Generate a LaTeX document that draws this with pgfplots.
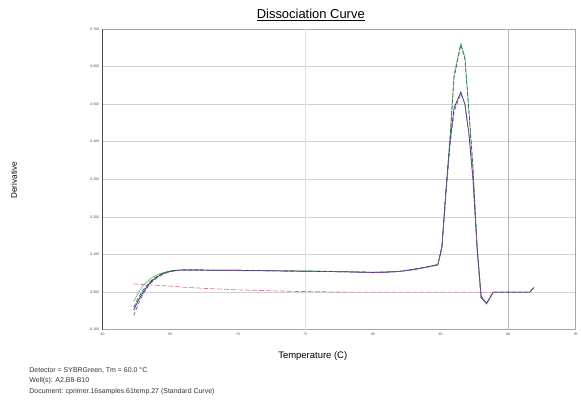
\documentclass[border=0pt]{standalone}
\usepackage{pgfplots}
\pgfplotsset{compat=1.18}
\usepackage{fontspec}
\setmainfont{Liberation Sans}
\definecolor{cgreen}{RGB}{110,190,110}
\definecolor{cteal}{RGB}{50,100,100}
\definecolor{cnavy}{RGB}{40,40,120}
\definecolor{cpurple}{RGB}{140,80,150}
\definecolor{cpink}{RGB}{215,120,130}
\begin{document}
\begin{tikzpicture}
\path (0pt,0pt) rectangle (581pt,401pt);
\begin{axis}[
  at={(103pt,70pt)}, anchor=south west,
  scale only axis, width=475pt, height=302pt,
  xmin=60, xmax=95, ymin=-0.1, ymax=0.7,
  xtick={60,65,...,95}, ytick={-0.1,0,0.1,0.2,0.3,0.4,0.5,0.6,0.7},
  extra x ticks={90}, extra x tick labels={},
  extra x tick style={grid=major, major grid style={black!30, line width=0.6pt}},
  ymajorgrids, major grid style={black!18, line width=0.6pt},
  axis line style={black!35, line width=0.5pt},
  major tick length=0pt,
  tick label style={font=\fontsize{3.5}{4}\selectfont, text=black!70},
  /pgf/number format/assume math mode=true,
  yticklabel style={/pgf/number format/.cd, fixed, fixed zerofill, precision=3},
  xticklabel style={/pgf/number format/.cd, fixed, precision=0},
  clip=false,
]
\draw[black!12, line width=0.6pt] (axis cs:75,-0.1) -- (axis cs:75,0.7);
% green (high peak)
\addplot[cgreen, line width=0.7pt] coordinates {
(62.3,-0.025)(62.6,-0.005)(63.0,0.018)(63.5,0.035)(64.0,0.046)(64.5,0.052)(65.0,0.056)(65.5,0.058)(66.0,0.059)(67,0.059)(68,0.058)(70,0.058)(72,0.057)(74,0.056)(76,0.056)(78,0.054)(80,0.053)(81,0.054)(82,0.056)(83,0.061)(84,0.067)(84.8,0.074)(85.1,0.12)(85.4,0.27)(85.7,0.41)(86.0,0.58)(86.5,0.662)(86.8,0.625)(87.1,0.48)(87.4,0.33)(87.7,0.12)(88.0,-0.01)(88.4,-0.032)(88.9,0.0)(91.6,0.0)(91.9,0.012)};
% navy (low peak)
\addplot[cnavy, line width=0.7pt] coordinates {
(62.3,-0.048)(62.6,-0.025)(63.0,0.0)(63.5,0.025)(64.0,0.040)(64.5,0.050)(65.0,0.055)(65.5,0.058)(66.0,0.059)(67,0.059)(68,0.058)(70,0.058)(72,0.057)(74,0.056)(76,0.055)(78,0.054)(80,0.052)(81,0.053)(82,0.055)(83,0.060)(84,0.067)(84.8,0.072)(85.1,0.12)(85.4,0.27)(85.7,0.40)(86.0,0.49)(86.5,0.532)(86.8,0.50)(87.1,0.42)(87.4,0.30)(87.7,0.12)(88.0,-0.015)(88.4,-0.03)(88.9,0.0)(91.6,0.0)(91.9,0.012)};
% teal dashed (high peak)
\addplot[cteal, line width=0.7pt, dash pattern=on 4pt off 2pt] coordinates {
(62.3,-0.040)(62.6,-0.018)(63.0,0.006)(63.5,0.028)(64.0,0.042)(64.5,0.051)(65.0,0.056)(65.5,0.058)(66.0,0.059)(67,0.059)(68,0.058)(70,0.058)(72,0.057)(74,0.056)(76,0.055)(78,0.054)(80,0.053)(81,0.053)(82,0.055)(83,0.060)(84,0.067)(84.8,0.073)(85.1,0.12)(85.4,0.27)(85.7,0.41)(86.0,0.57)(86.5,0.658)(86.8,0.62)(87.1,0.48)(87.4,0.33)(87.7,0.12)(88.0,-0.01)(88.4,-0.03)(88.9,0.0)(91.6,0.0)};
% purple dashed (low peak)
\addplot[cpurple, line width=0.7pt, dash pattern=on 4pt off 2pt] coordinates {
(62.3,-0.062)(62.6,-0.035)(63.0,-0.005)(63.5,0.022)(64.0,0.037)(64.5,0.048)(65.0,0.054)(65.5,0.057)(66.0,0.058)(67,0.058)(68,0.058)(70,0.057)(72,0.057)(74,0.056)(76,0.055)(78,0.054)(80,0.052)(81,0.053)(82,0.055)(83,0.060)(84,0.066)(84.8,0.072)(85.1,0.12)(85.4,0.26)(85.7,0.39)(86.0,0.48)(86.5,0.528)(86.8,0.50)(87.1,0.42)(87.4,0.30)(87.7,0.12)(88.0,-0.015)(88.4,-0.03)(88.9,0.0)(91.6,0.0)};
% pink dashed (no template)
\addplot[cpink, line width=0.7pt, dash pattern=on 5pt off 2pt] coordinates {
(62.3,0.022)(63,0.020)(64,0.018)(65,0.016)(66,0.013)(67,0.011)(68,0.009)(70,0.006)(72,0.004)(74,0.002)(76,0.001)(78,0.0)(80,0.0)(82,0.0)(84,0.0)(86,0.0)(88,0.0)(89,0.0)};
\draw[black!70, line width=1.3pt] (axis cs:60,-0.1) -- (axis cs:60,0.7);
\end{axis}
\node[font=\fontsize{13}{15}\selectfont, anchor=base] at (312pt,382pt) {\underline{Dissociation Curve}};
\node[font=\fontsize{8.2}{9}\selectfont, rotate=90] at (14pt,220pt) {Derivative};
\node[font=\fontsize{9.5}{11}\selectfont, anchor=base] at (314pt,41pt) {Temperature (C)};
\node[font=\fontsize{7}{8}\selectfont, anchor=base west, text=black!80] at (26pt,27pt) {Detector = SYBRGreen, Tm = 60.0 °C};
\node[font=\fontsize{7}{8}\selectfont, anchor=base west, text=black!80] at (26pt,16.5pt) {Well(s): A2,B8-B10};
\node[font=\fontsize{7}{8}\selectfont, anchor=base west, text=black!80] at (26pt,6pt) {Document: cprimer.16samples.61temp.27 (Standard Curve)};
\end{tikzpicture}
\end{document}
